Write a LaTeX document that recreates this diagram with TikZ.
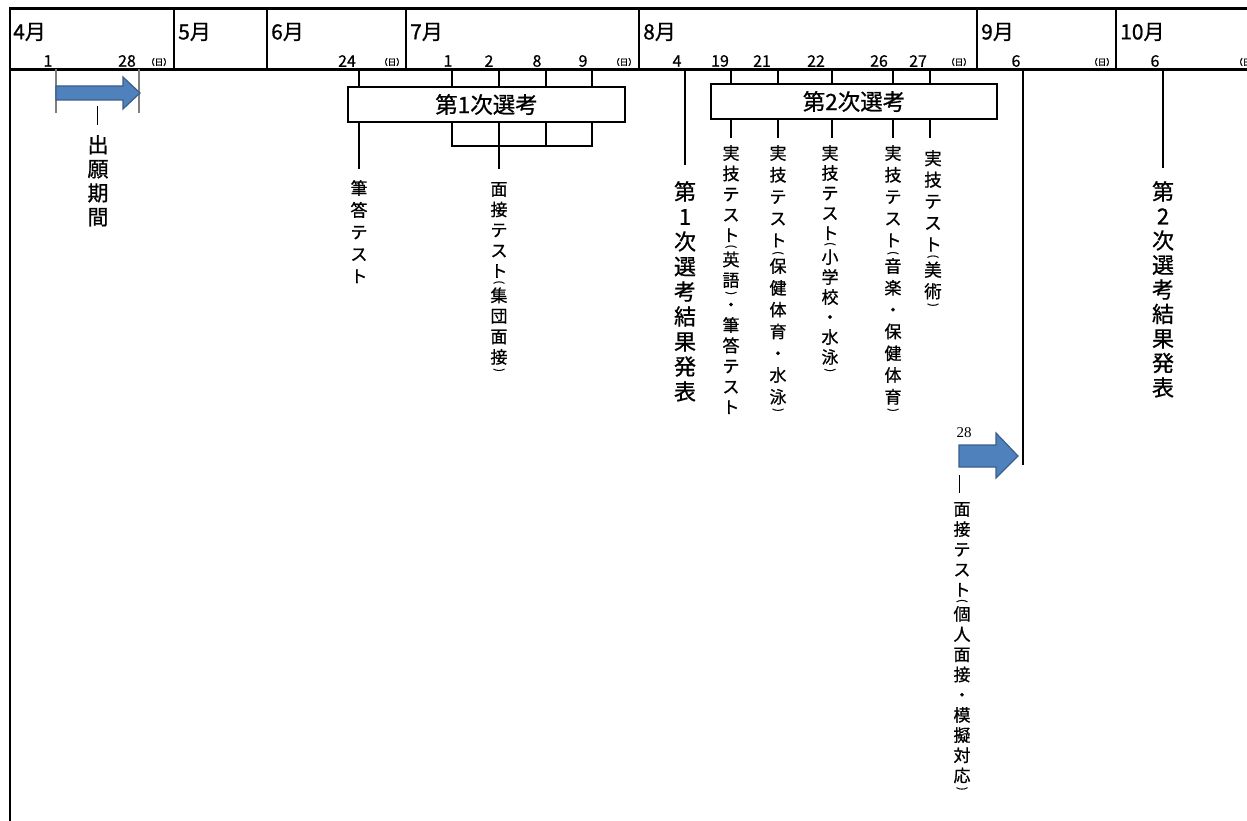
\documentclass[tikz,border=0pt]{standalone}
\usepackage{fontspec}
\setmainfont{Noto Sans CJK JP}[FakeBold=0.8]
\newfontfamily\serifnum{Liberation Serif}
\newcommand\parenup{\rlap{\makebox[1em]{\smash{\raisebox{0.95em}{\fontsize{11}{11}\selectfont\rotatebox[origin=c]{-90}{(}}}}}}
\newcommand\parendown{\llap{\makebox[1em]{\smash{\raisebox{-0.6em}{\fontsize{11}{11}\selectfont\rotatebox[origin=c]{-90}{)}}}}}}
\newcommand\lp{\\[4pt]\parenup}
\newcommand\rp{\parendown\\[4pt]}
\definecolor{arrowfill}{HTML}{4F81BD}
\definecolor{arrowdraw}{HTML}{3A5F8B}
\definecolor{guide}{HTML}{7F7F7F}
\tikzset{
  frame/.style={line width=2.6pt},
  sepline/.style={line width=2pt},
  tickline/.style={line width=1.5pt},
  thickline/.style={line width=2pt},
  guideline/.style={draw=guide, line width=2pt},
  month/.style={anchor=west, inner sep=0pt, font=\fontsize{21}{21}\selectfont},
  day/.style={inner sep=0pt, font=\fontsize{16}{16}\selectfont},
  sun/.style={inner sep=0pt, font=\fontsize{8.5}{8.5}\selectfont},
  stagebox/.style={draw, line width=1.2pt, fill=white, inner sep=0pt, font=\fontsize{22.5}{22.5}\selectfont},
  vt/.style={align=center, inner sep=0pt, anchor=north, font=\fontsize{17}{21}\selectfont},
  vtbig/.style={align=center, inner sep=0pt, anchor=north, font=\fontsize{22}{24.5}\selectfont},
  bluearrow/.style={fill=arrowfill, draw=arrowdraw, line width=1.2pt, line join=miter},
}
\begin{document}
\begin{tikzpicture}[x=1pt,y=-1pt]
\useasboundingbox (0,0) rectangle (1247,821);
% frame
\draw[frame] (10,821) -- (10,8.5) -- (1247,8.5);
\draw[frame] (10,69.5) -- (1247,69.5);
\foreach \x in {174,267,406,639,977,1116}
  \draw[sepline] (\x,8.5) -- (\x,69.5);
% months
\node[month] (m4) at (13,32) {4月};
\node[month] (m5) at (178,32) {5月};
\node[month] (m6) at (271,32) {6月};
\node[month] (m7) at (410,32) {7月};
\node[month] (m8) at (643,32) {8月};
\node[month] (m9) at (981,32) {9月};
\node[month] (m10) at (1120,32) {10月};
% days
\foreach \n/\x/\t in {d41/48/1, d428/127/28, d624/347/24, d71/448/1, d72/489/2, d78/537/8, d79/583/9,
  d84/677/4, d819/720/19, d821/762/21, d822/816/22, d826/879/26, d827/918/27, d96/1016/6, d106/1155/6}
  \node[day] (\n) at (\x,61) {\t};
\foreach \n/\x in {s4/159, s6/392, s7/624, s8/959, s9/1102, s10/1247}
  \node[sun] (\n) at (\x,62) {（日）};
% header tick coordinates
\foreach \n/\x in {a1/56, a28/139, j24/359, l1/452, l2/499, l8/546, l9/592,
  g4/685, g19/731, g21/778, g22/832, g26/893, g27/930, s6c/1023, o6/1163}
  \coordinate (\n) at (\x,69.5);
% stage boxes
\node[stagebox, minimum width=277pt, minimum height=35pt] (box1) at (486.5,104.5) {第1次選考};
\node[stagebox, minimum width=286pt, minimum height=35pt] (box2) at (854,101.5) {第2次選考};
% application period
\draw[guideline] (a1) -- ++(0,43.5);
\draw[guideline] (a28) -- ++(0,43.5);
\draw[bluearrow] (56,86) -- (123,86) -- (123,77) -- (140,93) -- (123,109) -- (123,100) -- (56,100) -- cycle;
\coordinate (apl) at (97,106);
\draw[line width=1pt] (apl) -- ++(0,19);
\node[vtbig, font=\fontsize{21}{24}\selectfont] (apply) at (98,135) {出\\願\\期\\間};
% first stage
\draw[thickline] (j24) -- (j24 |- box1.north);
\draw[thickline] (j24 |- box1.south) -- ++(0,46);
\node[vt, font=\fontsize{17}{22}\selectfont] (fude) at (359,180) {筆\\答\\テ\\ス\\ト};
\foreach \c in {l1,l2,l8,l9}
  \draw[tickline] (\c) -- (\c |- box1.north);
\coordinate (br) at (452,146);
\draw[tickline] (l1 |- box1.south) -- (l1 |- br) -- (l9 |- br) -- (l9 |- box1.south);
\draw[thickline] (l8 |- box1.south) -- (l8 |- br);
\draw[thickline] (l2 |- box1.south) -- ++(0,46);
\node[vt, font=\fontsize{17}{20.5}\selectfont] (shudan) at (499,182) {面\\接\\テ\\ス\\ト\lp 集\\団\\面\\接\parendown};
% first result
\draw[line width=2.4pt] (g4) -- ++(0,95.5);
\node[vtbig, font=\fontsize{22}{25}\selectfont] (res1) at (685,181) {第\\1\\次\\選\\考\\結\\果\\発\\表};
% second stage
\foreach \c in {g19,g21,g22,g26,g27}{
  \draw[tickline] (\c) -- (\c |- box2.north);
  \draw[tickline] (\c |- box2.south) -- ++(0,18);
}
\node[vt, font=\fontsize{17}{20.5}\selectfont] (eigo) at (731,145) {実\\技\\テ\\ス\\ト\lp 英\\語\rp ・\\筆\\答\\テ\\ス\\ト};
\node[vt, font=\fontsize{17}{21.8}\selectfont] (hoken) at (778,145) {実\\技\\テ\\ス\\ト\lp 保\\健\\体\\育\\・\\水\\泳\parendown};
\node[vt, font=\fontsize{17}{20}\selectfont] (sho) at (830,145) {実\\技\\テ\\ス\\ト\lp 小\\学\\校\\・\\水\\泳\parendown};
\node[vt, font=\fontsize{17}{21.8}\selectfont] (ongaku) at (893,145) {実\\技\\テ\\ス\\ト\lp 音\\楽\\・\\保\\健\\体\\育\parendown};
\node[vt, font=\fontsize{17.5}{21.5}\selectfont] (bijutsu) at (933,150) {実\\技\\テ\\ス\\ト\lp 美\\術\parendown};
% interview period
\draw[thickline] (s6c) -- ++(0,395.5);
\node[inner sep=0pt, font=\serifnum\fontsize{15}{15}\selectfont] (n28) at (964,433) {28};
\draw[bluearrow] (959,445) -- (996,445) -- (996,433) -- (1018,456) -- (996,478) -- (996,467) -- (959,467) -- cycle;
\coordinate (ivl) at (959,475);
\draw[line width=1pt] (ivl) -- ++(0,18);
\node[vt, font=\fontsize{17}{20.2}\selectfont] (kojin) at (962,502) {面\\接\\テ\\ス\\ト\lp 個\\人\\面\\接\\・\\模\\擬\\対\\応\parendown};
% second result
\draw[thickline] (o6) -- ++(0,98.5);
\node[vtbig, font=\fontsize{22}{24.5}\selectfont] (res2) at (1163,181) {第\\2\\次\\選\\考\\結\\果\\発\\表};
\end{tikzpicture}
\end{document}
